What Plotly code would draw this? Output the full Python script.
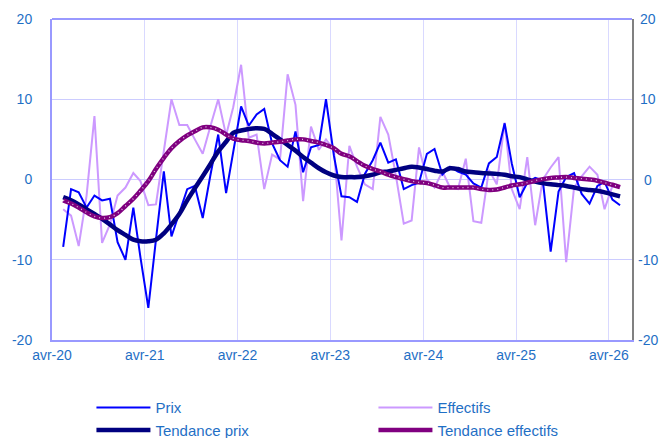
import plotly.graph_objects as go
import pandas as pd

dates = pd.date_range("2020-04-15", periods=73, freq="MS") + pd.Timedelta(days=14)

prix = [-8.4, -1.2, -1.6, -3.5, -2.0, -2.6, -2.4, -7.8, -10.0, -3.5, -9.7, -16.0,
        -7.5, 1.0, -7.1, -4.0, -1.2, -0.8, -4.8, 0.5, 5.6, -1.7, 3.7, 9.1,
        6.7, 8.1, 8.8, 4.5, 2.4, 1.6, 6.0, 0.9, 4.0, 4.3, 10.0, 3.0,
        -2.1, -2.2, -2.8, 0.7, 2.4, 4.6, 2.1, 2.5, -1.2, -0.7, -0.4, 3.2,
        3.8, 0.6, 1.6, 1.0, 0.6, -0.5, -1.0, 2.0, 2.8, 7.0, 2.0, -2.2,
        -0.4, 0.2, -0.1, -9.0, -1.5, 0.3, 0.8, -1.8, -3.0, -0.8, -0.3, -2.5,
        -3.2]

effectifs = [-3.7, -4.5, -8.3, -2.0, 7.9, -7.9, -5.6, -2.0, -1.0, 0.8, -0.2, -3.2,
             -3.1, 3.5, 10.0, 6.8, 6.8, 5.0, 3.2, 6.6, 10.0, 5.5, 9.0, 14.3,
             5.2, 5.6, -1.2, 3.1, 2.5, 13.1, 9.3, -2.7, 6.6, 3.7, 5.0, 3.7,
             -7.6, 4.2, 1.6, -0.6, -1.2, 7.8, 5.6, 0.5, -5.5, -5.1, 4.0, 0.0,
             -1.0, 1.0, -1.0, -1.2, 2.6, -5.2, -5.4, 1.2, -0.6, 7.1, -1.2, -3.7,
             2.8, -5.7, 0.0, 1.5, 2.8, -10.3, -1.0, 0.4, 1.6, 0.6, -3.7, -0.8,
             -1.0]

tendance_prix = [-2.2, -2.6, -3.1, -3.7, -4.3, -4.9, -5.6, -6.3, -6.9, -7.5, -7.7, -7.7,
                 -7.5, -6.7, -5.6, -4.3, -2.6, -1.1, 0.4, 1.9, 3.5, 4.7, 5.8, 6.1,
                 6.3, 6.4, 6.3, 5.7, 5.0, 4.3, 3.6, 2.8, 2.1, 1.4, 0.9, 0.5,
                 0.3, 0.3, 0.3, 0.4, 0.6, 0.9, 1.0, 1.2, 1.4, 1.6, 1.5, 1.3,
                 1.1, 1.0, 1.4, 1.3, 1.0, 0.9, 0.8, 0.75, 0.7, 0.6, 0.4, 0.3,
                 0.0, -0.25, -0.45, -0.6, -0.7, -0.8, -1.0, -1.2, -1.3, -1.4, -1.6, -1.85,
                 -2.1]

tendance_effectifs = [-2.6, -3.0, -3.5, -4.1, -4.6, -4.8, -4.7, -4.2, -3.3, -2.4, -1.4, -0.2,
                      1.3, 2.7, 3.9, 4.8, 5.5, 6.0, 6.5, 6.5, 6.2, 5.6, 5.1, 4.9,
                      4.8, 4.6, 4.5, 4.6, 4.7, 4.85, 5.0, 5.0, 4.8, 4.6, 4.3, 3.9,
                      3.2, 2.9, 2.3, 1.7, 1.3, 1.0, 0.6, 0.3, 0.05, -0.2, -0.35, -0.45,
                      -0.7, -1.0, -1.0, -1.0, -1.0, -1.0, -1.2, -1.3, -1.25, -1.0, -0.75, -0.6,
                      -0.4, -0.15, 0.05, 0.2, 0.25, 0.3, 0.2, 0.1, 0.0, -0.15, -0.4, -0.65,
                      -0.95]

tick_dates = ["2020-04-01", "2021-04-01", "2022-04-01", "2023-04-01",
              "2024-04-01", "2025-04-01", "2026-04-01"]
tick_labels = ["avr-20", "avr-21", "avr-22", "avr-23", "avr-24", "avr-25", "avr-26"]
y_ticks = [-20, -10, 0, 10, 20]
y_tick_labels = ["-20", "-10", "0", "10", "20"]

FONT = "Liberation Sans, Arial, sans-serif"
TXT = "#1F6FC5"

fig = go.Figure()
fig.add_trace(go.Scatter(x=dates, y=effectifs, name="Effectifs", mode="lines",
                         line=dict(color="#CC99FF", width=2), legendrank=2))
fig.add_trace(go.Scatter(x=dates, y=prix, name="Prix", mode="lines",
                         line=dict(color="#0000FF", width=2), legendrank=1))
fig.add_trace(go.Scatter(x=dates, y=tendance_prix, name="Tendance prix", mode="lines",
                         line=dict(color="#000080", width=4.5, shape="spline"), legendrank=3))
fig.add_trace(go.Scatter(x=dates, y=tendance_effectifs, name="Tendance effectifs", mode="lines",
                         line=dict(color="#800080", width=4.5, shape="spline"), legendrank=4))
fig.add_trace(go.Scatter(x=dates, y=tendance_effectifs, mode="lines", showlegend=False,
                         hoverinfo="skip", yaxis="y2",
                         line=dict(color="rgba(235,220,235,0.9)", width=1.3, dash="1px,4px",
                                   shape="spline")))

# the page body adds an 8 px margin, so the figure is 8 px smaller each way
fig.update_layout(
    width=662, height=430,
    margin=dict(l=44, r=38, t=11, b=98, autoexpand=False),
    paper_bgcolor="white", plot_bgcolor="white",
    font=dict(family=FONT, size=14, color=TXT),
    showlegend=True,
    legend=dict(orientation="h", x=0.068, y=-0.16, xanchor="left", yanchor="top",
                entrywidth=213, itemwidth=54, font=dict(size=15, color=TXT),
                tracegroupgap=0, bgcolor="rgba(0,0,0,0)"),
    xaxis=dict(type="date", range=["2020-04-01", "2026-07-01"],
               tickvals=tick_dates, ticktext=tick_labels, automargin=False,
               showgrid=True, gridcolor="#D9D9FF", gridwidth=1,
               showline=True, linecolor="#9999FF", linewidth=2, mirror=False,
               ticks="", ticklabelstandoff=1, tickfont=dict(size=14, color=TXT),
               zeroline=False),
    yaxis=dict(range=[-20, 20], tickvals=y_ticks, ticktext=y_tick_labels,
               showgrid=True, automargin=False,
               gridcolor="#CCCCFF", gridwidth=1, zeroline=False,
               showline=True, linecolor="#9999FF", linewidth=2,
               ticks="", ticklabelstandoff=15, tickfont=dict(size=14, color=TXT)),
    yaxis2=dict(range=[-20, 20], tickvals=y_ticks, overlaying="y", side="right",
                showgrid=False, zeroline=False, showline=True, linecolor="#808080",
                linewidth=2, ticks="", showticklabels=False, automargin=False),
)
fig.add_shape(type="line", xref="paper", yref="paper", x0=0, x1=1, y0=1, y1=1,
              line=dict(color="#9999FF", width=2))

# right-hand tick labels (centred, as in the original)
for v, lab in zip(y_ticks, y_tick_labels):
    fig.add_annotation(x=1.0276, xref="paper", y=v, yref="y2", text=lab,
                       showarrow=False, xanchor="center", yanchor="middle",
                       font=dict(family=FONT, size=14, color=TXT))

fig.write_html("out.html")
